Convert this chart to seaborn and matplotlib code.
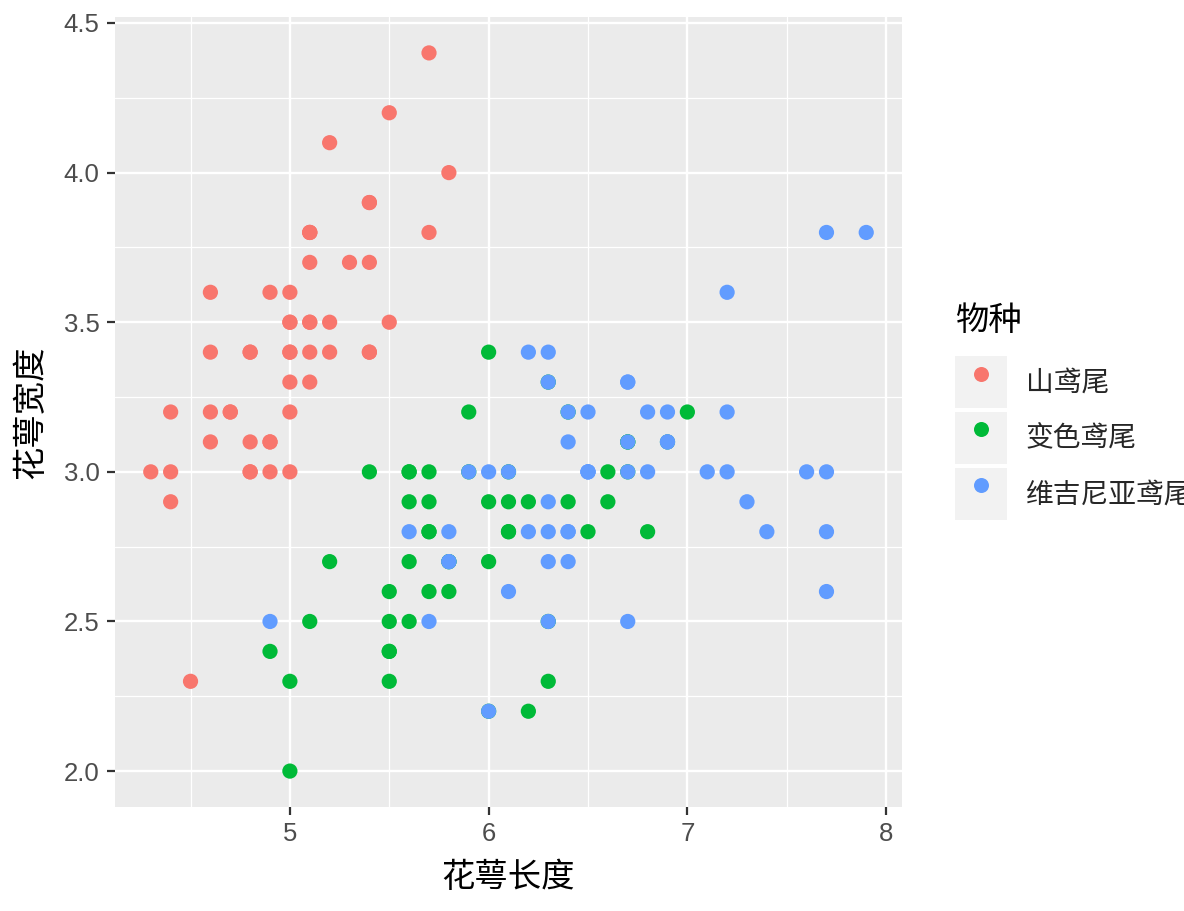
import numpy as np
import pandas as pd
import matplotlib
matplotlib.use("Agg")
import matplotlib.pyplot as plt
from matplotlib.patches import Rectangle
from matplotlib.lines import Line2D
from matplotlib.legend_handler import HandlerTuple
import seaborn as sns

# sepal length / width for each species (iris)
setosa_len = [5.1, 4.9, 4.7, 4.6, 5.0, 5.4, 4.6, 5.0, 4.4, 4.9, 5.4, 4.8, 4.8, 4.3, 5.8, 5.7, 5.4,
              5.1, 5.7, 5.1, 5.4, 5.1, 4.6, 5.1, 4.8, 5.0, 5.0, 5.2, 5.2, 4.7, 4.8, 5.4, 5.2, 5.5,
              4.9, 5.0, 5.5, 4.9, 4.4, 5.1, 5.0, 4.5, 4.4, 5.0, 5.1, 4.8, 5.1, 4.6, 5.3, 5.0]
setosa_wid = [3.5, 3.0, 3.2, 3.1, 3.6, 3.9, 3.4, 3.4, 2.9, 3.1, 3.7, 3.4, 3.0, 3.0, 4.0, 4.4, 3.9,
              3.5, 3.8, 3.8, 3.4, 3.7, 3.6, 3.3, 3.4, 3.0, 3.4, 3.5, 3.4, 3.2, 3.1, 3.4, 4.1, 4.2,
              3.1, 3.2, 3.5, 3.6, 3.0, 3.4, 3.5, 2.3, 3.2, 3.5, 3.8, 3.0, 3.8, 3.2, 3.7, 3.3]
versi_len = [7.0, 6.4, 6.9, 5.5, 6.5, 5.7, 6.3, 4.9, 6.6, 5.2, 5.0, 5.9, 6.0, 6.1, 5.6, 6.7, 5.6,
             5.8, 6.2, 5.6, 5.9, 6.1, 6.3, 6.1, 6.4, 6.6, 6.8, 6.7, 6.0, 5.7, 5.5, 5.5, 5.8, 6.0,
             5.4, 6.0, 6.7, 6.3, 5.6, 5.5, 5.5, 6.1, 5.8, 5.0, 5.6, 5.7, 5.7, 6.2, 5.1, 5.7]
versi_wid = [3.2, 3.2, 3.1, 2.3, 2.8, 2.8, 3.3, 2.4, 2.9, 2.7, 2.0, 3.0, 2.2, 2.9, 2.9, 3.1, 3.0,
             2.7, 2.2, 2.5, 3.2, 2.8, 2.5, 2.8, 2.9, 3.0, 2.8, 3.0, 2.9, 2.6, 2.4, 2.4, 2.7, 2.7,
             3.0, 3.4, 3.1, 2.3, 3.0, 2.5, 2.6, 3.0, 2.6, 2.3, 2.7, 3.0, 2.9, 2.9, 2.5, 2.8]
virg_len = [6.3, 5.8, 7.1, 6.3, 6.5, 7.6, 4.9, 7.3, 6.7, 7.2, 6.5, 6.4, 6.8, 5.7, 5.8, 6.4, 6.5,
            7.7, 7.7, 6.0, 6.9, 5.6, 7.7, 6.3, 6.7, 7.2, 6.2, 6.1, 6.4, 7.2, 7.4, 7.9, 6.4, 6.3,
            6.1, 7.7, 6.3, 6.4, 6.0, 6.9, 6.7, 6.9, 5.8, 6.8, 6.7, 6.7, 6.3, 6.5, 6.2, 5.9]
virg_wid = [3.3, 2.7, 3.0, 2.9, 3.0, 3.0, 2.5, 2.9, 2.5, 3.6, 3.2, 2.7, 3.0, 2.5, 2.8, 3.2, 3.0,
            3.8, 2.6, 2.2, 3.2, 2.8, 2.8, 2.7, 3.3, 3.2, 2.8, 3.0, 2.8, 3.0, 2.8, 3.8, 2.8, 2.8,
            2.6, 3.0, 3.4, 3.1, 3.0, 3.1, 3.1, 3.1, 2.7, 3.2, 3.3, 3.0, 2.5, 3.0, 3.4, 3.0]

species = ["山鸢尾", "变色鸢尾", "维吉尼亚鸢尾"]
x_ticks = [5, 6, 7, 8]
y_ticks = [2.0, 2.5, 3.0, 3.5, 4.0, 4.5]

df = pd.DataFrame({
    "花萼长度": setosa_len + versi_len + virg_len,
    "花萼宽度": setosa_wid + versi_wid + virg_wid,
    "物种": [species[0]] * 50 + [species[1]] * 50 + [species[2]] * 50,
})

colors = ["#F8766D", "#00BA38", "#619CFF"]
palette = dict(zip(species, colors))

sns.set_theme(style="darkgrid")
plt.rcParams["font.family"] = ["Liberation Sans", "Noto Sans CJK SC", "DejaVu Sans"]
plt.rcParams["axes.unicode_minus"] = False

fig = plt.figure(figsize=(11.84, 9.11), dpi=100)
ax = fig.add_axes([115 / 1184, 1 - 807 / 911, 787 / 1184, 790 / 911])
ax.set_facecolor("#EBEBEB")

sns.scatterplot(data=df, x="花萼长度", y="花萼宽度", hue="物种", palette=palette,
                s=120, linewidth=0, alpha=1, ax=ax, legend=False, zorder=3)

ax.set_xlim(4.12, 8.08)
ax.set_ylim(1.88, 4.52)
ax.set_xticks(x_ticks)
ax.set_xticklabels([str(t) for t in x_ticks])
ax.set_yticks(y_ticks)
ax.set_yticklabels([f"{t:.1f}" for t in y_ticks])
ax.set_xticks([4.5, 5.5, 6.5, 7.5], minor=True)
ax.set_yticks([2.25, 2.75, 3.25, 3.75, 4.25], minor=True)
ax.grid(which="major", color="white", linewidth=1.7)
ax.grid(which="minor", color="white", linewidth=0.9)
ax.set_axisbelow(True)
for sp in ax.spines.values():
    sp.set_visible(False)

ax.tick_params(axis="both", which="major", length=6, width=1.6, color="#333333",
               labelsize=18.5, labelcolor="#4D4D4D", pad=5, bottom=True, left=True)
ax.tick_params(axis="both", which="minor", length=0)

ax.set_xlabel("花萼长度", fontsize=24, color="black", labelpad=12)
ax.set_ylabel("花萼宽度", fontsize=24, color="black", labelpad=12)

# legend with grey key boxes like ggplot
handles = []
for c in colors:
    box = Rectangle((0, 0), 1, 1, facecolor="#F2F2F2", edgecolor="none")
    dot = Line2D([], [], marker="o", linestyle="none", markersize=10.8,
                 markerfacecolor=c, markeredgewidth=0)
    handles.append((box, dot))
leg = ax.legend(handles, species, title="物种", loc="center left",
                bbox_to_anchor=(955 / 1184, 1 - 413 / 911), bbox_transform=fig.transFigure,
                frameon=False, fontsize=20, title_fontsize=24, alignment="left",
                handler_map={tuple: HandlerTuple(ndivide=1, pad=0)},
                handlelength=1.87, handleheight=2.5, labelspacing=0.14,
                handletextpad=0.68, borderpad=0, borderaxespad=0)
leg.get_title().set_color("black")
leg._legend_box.sep = 14

plt.savefig("out.png", dpi=100)
